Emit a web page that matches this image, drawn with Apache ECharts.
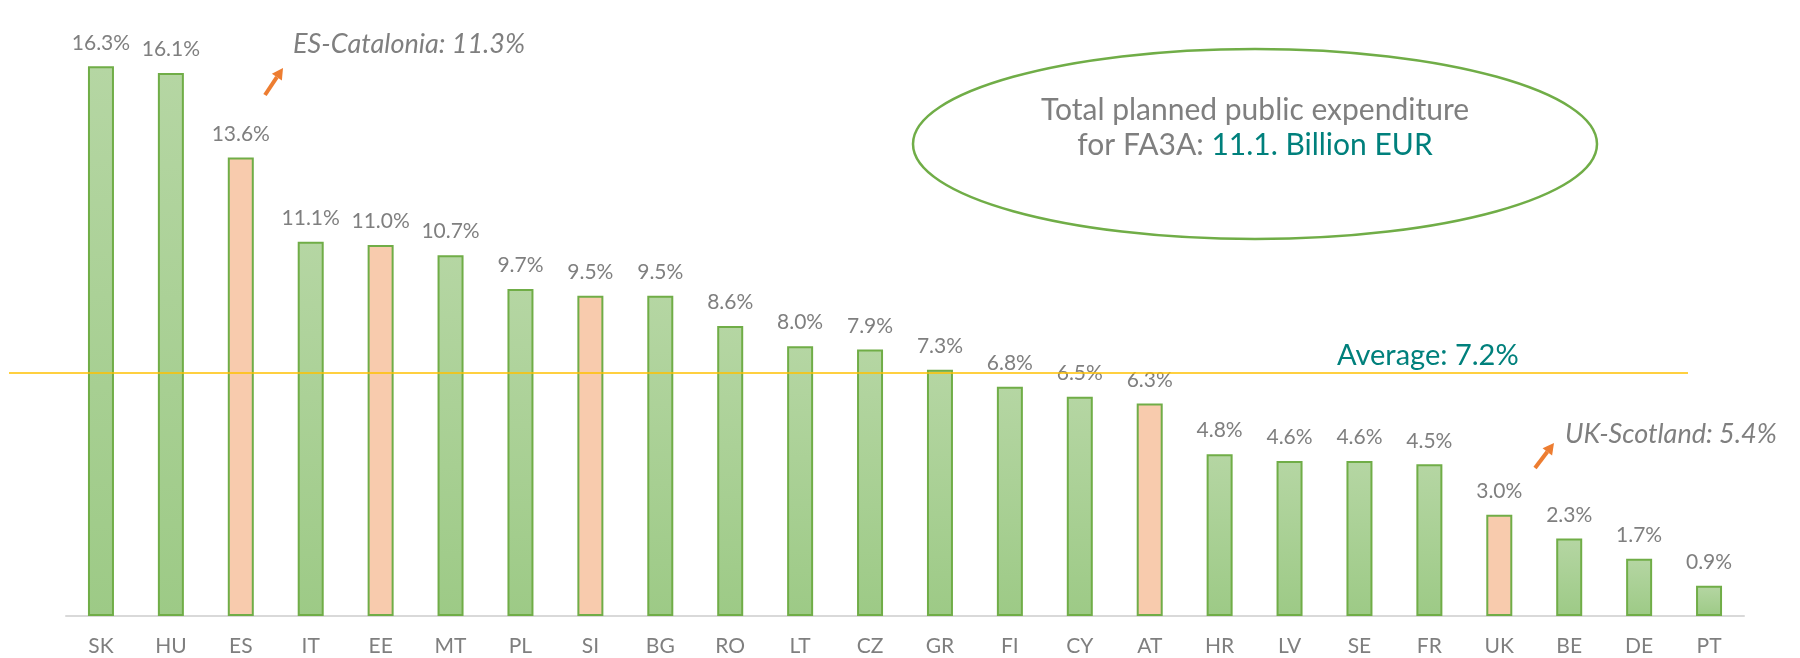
<!DOCTYPE html>
<html><head><meta charset="utf-8">
<script src="https://cdn.jsdelivr.net/npm/echarts@6/dist/echarts.min.js"></script>
<style>html,body{margin:0;padding:0;background:#fff}#c{width:1800px;height:658px}</style>
</head><body><div id="c"></div>
<script>
var categories = ['SK','HU','ES','IT','EE','MT','PL','SI','BG','RO','LT','CZ','GR','FI','CY','AT','HR','LV','SE','FR','UK','BE','DE','PT'];
var values = [16.3,16.1,13.6,11.1,11.0,10.7,9.7,9.5,9.5,8.6,8.0,7.9,7.3,6.8,6.5,6.3,4.8,4.6,4.6,4.5,3.0,2.3,1.7,0.9];
var highlighted = ['ES','EE','SI','AT','UK'];
var average = 7.2;
var regionNotes = ['ES-Catalonia: 11.3%', 'UK-Scotland: 5.4%'];
var totalText = ['Total planned public expenditure', 'for FA3A: ', '11.1. Billion EUR'];

var FONT = 'Lato';
var GREEN = {type:'linear',x:0,y:0,x2:0,y2:1,colorStops:[{offset:0,color:'#B5D6A3'},{offset:1,color:'#9DCA86'}]};
var ORANGE = '#F8CBAD';

var chart = echarts.init(document.getElementById('c'));
var data = values.map(function(v,i){
  return {value:v, itemStyle:{color: highlighted.indexOf(categories[i])>=0 ? ORANGE : GREEN}};
});

function arrow(x1,y1,x2,y2){
  var dx=x2-x1, dy=y2-y1, L=Math.sqrt(dx*dx+dy*dy), ux=dx/L, uy=dy/L;
  var hl=11, hw=6;
  var bx=x2-ux*hl, by=y2-uy*hl;
  return [
    {type:'line',shape:{x1:x1,y1:y1,x2:bx,y2:by},style:{stroke:'#ED7D31',lineWidth:4}},
    {type:'polygon',shape:{points:[[x2,y2],[bx-uy*hw,by+ux*hw],[bx+uy*hw,by-ux*hw]]},style:{fill:'#ED7D31'}}
  ];
}

var option = {
  animation:false,
  backgroundColor:'#fff',
  grid:{left:66,right:56,top:9,bottom:42},
  xAxis:{type:'category',data:categories,
    axisLine:{lineStyle:{color:'#D9D9D9',width:2}},axisTick:{show:false},
    axisLabel:{color:'#7F7F7F',fontSize:21,fontFamily:FONT,margin:20}},
  yAxis:{type:'value',min:0,max:18,show:false,splitLine:{show:false}},
  series:[{type:'bar',data:data,barWidth:26,
    itemStyle:{borderColor:'#70AD47',borderWidth:2},
    label:{show:true,position:'top',distance:13,color:'#7F7F7F',fontSize:21,fontFamily:FONT,
      formatter:function(p){return p.value.toFixed(1)+'%';}},
    markLine:{silent:true,symbol:'none',
      lineStyle:{color:'#FFC000',width:1.5,type:'solid'},
      label:{show:false},
      data:[[{x:9,yAxis:average},{x:1688,yAxis:average}]]}
  }]
};
chart.setOption(option);

var avgY = chart.convertToPixel({yAxisIndex:0}, average);
var g = [];
g.push({type:'ellipse',shape:{cx:1255,cy:144,rx:342,ry:95},style:{fill:'none',stroke:'#70AD47',lineWidth:2.5}});
g.push({type:'text',x:1255,y:128,style:{
  text:'{g|'+totalText[0]+'}\n{g|'+totalText[1]+'}{t|'+totalText[2]+'}',
  align:'center',verticalAlign:'middle',lineHeight:35,
  rich:{g:{fill:'#7F7F7F',fontSize:30,fontFamily:FONT,lineHeight:35},t:{fill:'#00807C',fontSize:30,fontFamily:FONT,lineHeight:35}}}});
g.push({type:'text',x:1337,y:avgY-18,style:{text:'Average: '+average.toFixed(1)+'%',fill:'#00807C',fontSize:29,fontFamily:FONT,verticalAlign:'middle',align:'left'}});
g.push({type:'text',x:293,y:44,style:{text:regionNotes[0],fill:'#7F7F7F',fontSize:27,fontStyle:'italic',fontFamily:FONT,verticalAlign:'middle'}});
g.push({type:'text',x:1565,y:434,style:{text:regionNotes[1],fill:'#7F7F7F',fontSize:27,fontStyle:'italic',fontFamily:FONT,verticalAlign:'middle'}});
g = g.concat(arrow(265,95,283,68)).concat(arrow(1535,468,1554,443));
chart.setOption({graphic:{elements:g}});
</script></body></html>
